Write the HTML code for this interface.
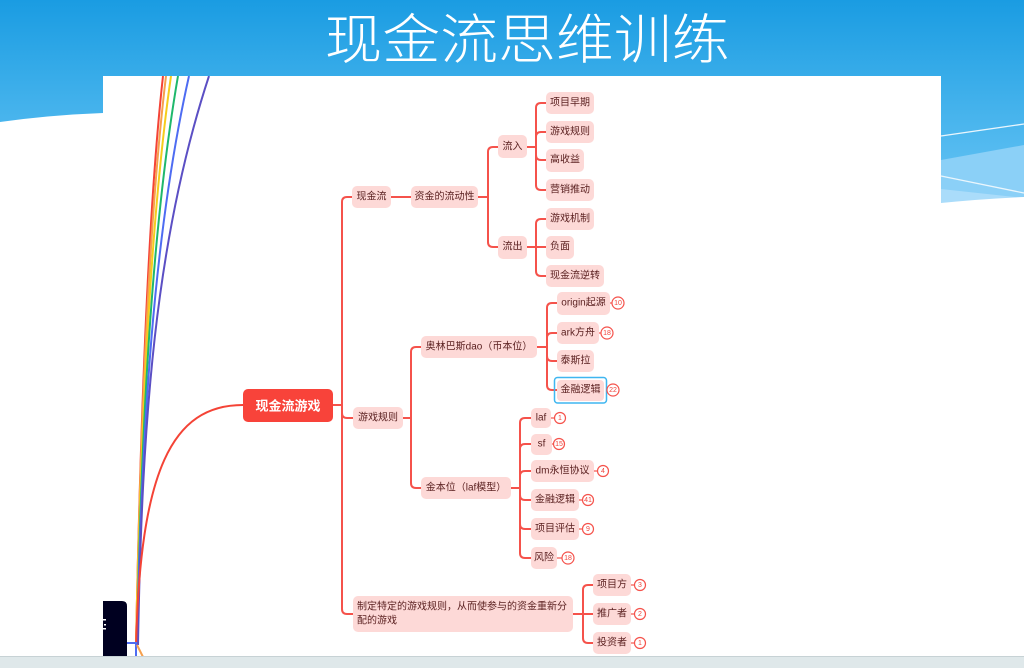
<!DOCTYPE html>
<html><head><meta charset="utf-8"><style>
html,body{margin:0;padding:0;width:1024px;height:668px;overflow:hidden;background:#fff}
svg{display:block}
.n{fill:#fdd9d7}
.t{font-family:"Liberation Sans","Noto Sans CJK SC",sans-serif;font-size:10px;fill:#5c2222;text-anchor:middle;dominant-baseline:central}
.c{fill:none;stroke:#f5524b;stroke-width:2}
.b{fill:#fff;stroke:#f5524b;stroke-width:1.2}
.bt{font-family:"Liberation Sans",sans-serif;font-size:7px;fill:#f0443c;text-anchor:middle;dominant-baseline:central}
</style></head><body>
<svg width="1024" height="668" viewBox="0 0 1024 668" xmlns="http://www.w3.org/2000/svg">
<defs>
<linearGradient id="bg" x1="0" y1="0" x2="0" y2="1">
<stop offset="0" stop-color="#1a9ce2"/>
<stop offset="0.37" stop-color="#38ace9"/>
<stop offset="1" stop-color="#6cc7f6"/>
</linearGradient>
<clipPath id="panel"><rect x="103" y="76" width="838" height="581"/></clipPath>
</defs>
<rect x="0" y="0" width="1024" height="210" fill="url(#bg)"/>
<!-- right bands -->
<path d="M941,160 L1024,145 L1024,200 L941,205 Z" fill="#8bd0f7"/>
<path d="M941,189 L1024,198 L1024,200 L941,205 Z" fill="#aadcfa"/>
<line x1="941" y1="136" x2="1024" y2="124" stroke="#eaf6fd" stroke-width="1.3"/>
<line x1="941" y1="176" x2="1024" y2="193" stroke="#eaf6fd" stroke-width="1.3"/>
<!-- white clouds -->
<path d="M0,122 Q50,115 103,113 L103,668 L0,668 Z" fill="#fff"/>
<path d="M941,203 Q980,199 1024,197 L1024,668 L941,668 Z" fill="#fff"/>
<rect x="103" y="76" width="838" height="581" fill="#fff"/>
<!-- title -->
<text x="527" y="35" font-family="'Noto Sans CJK SC','WenQuanYi Zen Hei',sans-serif" font-size="54" font-weight="300" fill="#fff" text-anchor="middle" dominant-baseline="central" textLength="405" lengthAdjust="spacingAndGlyphs">现金流思维训练</text>

<g clip-path="url(#panel)">
<!-- rainbow lines -->
<path d="M136,645 C140,450 147,220 163,76" fill="none" stroke="#f44336" stroke-width="2"/>
<path d="M136,645 C140,445 148,225 166,76" fill="none" stroke="#f6a04d" stroke-width="2"/>
<path d="M136,645 C141,440 149,228 171,76" fill="none" stroke="#f5cd1c" stroke-width="2"/>
<path d="M137,645 C141,435 151,232 178,76" fill="none" stroke="#1fb86c" stroke-width="2"/>
<path d="M137,645 C142,428 153,236 189,76" fill="none" stroke="#4e6cf2" stroke-width="2"/>
<path d="M138,645 C142,420 155,240 209,76" fill="none" stroke="#5b4fc4" stroke-width="2"/>
<!-- main red curve -->
<path d="M243,405 C172,405 140,470 136,648" fill="none" stroke="#f44336" stroke-width="2"/>
<!-- black box -->
<path d="M102,601 H122 Q127,601 127,606 V657 H102 Z" fill="#000020"/>
<rect x="103" y="619" width="3" height="1.5" fill="#fff"/>
<rect x="104" y="624" width="2" height="1.5" fill="#fff"/>
<rect x="103" y="628" width="3" height="1.5" fill="#fff"/>
<path d="M127,643 H136 V657" fill="none" stroke="#4e6cf2" stroke-width="2"/>
<path d="M137,645 L143,657" fill="none" stroke="#f6a04d" stroke-width="2"/>
</g>

<!-- bottom strip -->
<rect x="0" y="656" width="1024" height="12" fill="#dfe8ea"/>
<rect x="0" y="656" width="1024" height="1" fill="#c7d2d5"/>

<!-- connectors -->
<g class="c">
<path d="M333,405 H342"/>
<path d="M342,405 V202 Q342,197 347,197 H352"/>
<path d="M342,405 V413 Q342,418 347,418 H353"/>
<path d="M342,405 V609 Q342,614 347,614 H353"/>
<path d="M391,197 H411"/>
<path d="M403,418 H411"/>
<path d="M411,418 V352 Q411,347 416,347 H421"/>
<path d="M411,418 V483 Q411,488 416,488 H421"/>
<path d="M478,197 H488"/>
<path d="M488,197 V152 Q488,147 493,147 H498"/>
<path d="M488,197 V242 Q488,247 493,247 H498"/>
<path d="M527,147 H536"/>
<path d="M536,147 V108 Q536,103 541,103 H546"/>
<path d="M536,147 V137 Q536,132 541,132 H546"/>
<path d="M536,147 V155 Q536,160 541,160 H546"/>
<path d="M536,147 V185 Q536,190 541,190 H546"/>
<path d="M527,247 H546"/>
<path d="M536,247 V224 Q536,219 541,219 H546"/>
<path d="M536,247 V271 Q536,276 541,276 H546"/>
<path d="M537,347 H547"/>
<path d="M547,347 V308 Q547,303 552,303 H557"/>
<path d="M547,347 V338 Q547,333 552,333 H557"/>
<path d="M547,347 V356 Q547,361 552,361 H557"/>
<path d="M547,347 V385 Q547,390 552,390 H557"/>
<path d="M511,488 H520"/>
<path d="M520,488 V423 Q520,418 525,418 H531"/>
<path d="M520,488 V449 Q520,444 525,444 H531"/>
<path d="M520,488 V476 Q520,471 525,471 H531"/>
<path d="M520,488 V495 Q520,500 525,500 H531"/>
<path d="M520,488 V524 Q520,529 525,529 H531"/>
<path d="M520,488 V553 Q520,558 525,558 H531"/>
<path d="M573,614 H593"/>
<path d="M583,614 V590 Q583,585 588,585 H593"/>
<path d="M583,614 V638 Q583,643 588,643 H593"/>
</g>
<!-- badge connectors -->
<g stroke="#f5524b" stroke-width="1.2">
<line x1="610" y1="303" x2="612" y2="303"/>
<line x1="599" y1="333" x2="601" y2="333"/>
<line x1="551" y1="418" x2="554" y2="418"/>
<line x1="551" y1="444" x2="553" y2="444"/>
<line x1="594" y1="471" x2="597" y2="471"/>
<line x1="579" y1="500" x2="582" y2="500"/>
<line x1="579" y1="529" x2="582" y2="529"/>
<line x1="557" y1="558" x2="562" y2="558"/>
<line x1="631" y1="585" x2="634" y2="585"/>
<line x1="631" y1="614" x2="634" y2="614"/>
<line x1="631" y1="643" x2="634" y2="643"/>
</g>

<!-- center node -->
<rect x="243" y="389" width="90" height="33" rx="5" fill="#f8433a"/>
<text x="288" y="406" font-family="'Liberation Sans','Noto Sans CJK SC',sans-serif" font-size="13" font-weight="bold" fill="#fff" text-anchor="middle" dominant-baseline="central">现金流游戏</text>

<!-- nodes -->
<g>
<rect class="n" x="352" y="186" width="39" height="22" rx="5"/><text class="t" x="371.5" y="197">现金流</text>
<rect class="n" x="353" y="407" width="50" height="22" rx="5"/><text class="t" x="378" y="418">游戏规则</text>
<rect class="n" x="353" y="596" width="220" height="36" rx="5"/>
<text class="t" x="357" y="607" style="text-anchor:start">制定特定的游戏规则，从而使参与的资金重新分</text>
<text class="t" x="357" y="621" style="text-anchor:start">配的游戏</text>

<rect class="n" x="411" y="186" width="67" height="22" rx="5"/><text class="t" x="444.5" y="197">资金的流动性</text>
<rect class="n" x="421" y="336" width="116" height="22" rx="5"/><text class="t" x="479" y="347">奥林巴斯dao（币本位）</text>
<rect class="n" x="421" y="477" width="90" height="22" rx="5"/><text class="t" x="466" y="488">金本位（laf模型）</text>

<rect class="n" x="498" y="135" width="29" height="23" rx="5"/><text class="t" x="512.5" y="147">流入</text>
<rect class="n" x="498" y="236" width="29" height="23" rx="5"/><text class="t" x="512.5" y="247">流出</text>

<rect class="n" x="546" y="92" width="48" height="22" rx="5"/><text class="t" x="570" y="103">项目早期</text>
<rect class="n" x="546" y="121" width="48" height="22" rx="5"/><text class="t" x="570" y="132">游戏规则</text>
<rect class="n" x="546" y="149" width="38" height="23" rx="5"/><text class="t" x="565" y="160">高收益</text>
<rect class="n" x="546" y="179" width="48" height="22" rx="5"/><text class="t" x="570" y="190">营销推动</text>
<rect class="n" x="546" y="208" width="48" height="22" rx="5"/><text class="t" x="570" y="219">游戏机制</text>
<rect class="n" x="546" y="236" width="28" height="23" rx="5"/><text class="t" x="560" y="247">负面</text>
<rect class="n" x="546" y="265" width="58" height="22" rx="5"/><text class="t" x="575" y="276">现金流逆转</text>

<rect class="n" x="557" y="292" width="53" height="23" rx="5"/><text class="t" x="583.5" y="303">origin起源</text>
<rect class="n" x="557" y="322" width="42" height="22" rx="5"/><text class="t" x="578" y="333">ark方舟</text>
<rect class="n" x="557" y="350" width="37" height="22" rx="5"/><text class="t" x="575.5" y="361">泰斯拉</text>
<rect class="n" x="557" y="380" width="47" height="21" rx="4"/>
<rect x="554.5" y="377.5" width="52" height="25.5" rx="3" fill="none" stroke="#3fb6f0" stroke-width="1.5"/>
<text class="t" x="580.5" y="390">金融逻辑</text>

<rect class="n" x="531" y="408" width="20" height="20" rx="5"/><text class="t" x="541" y="418">laf</text>
<rect class="n" x="531" y="434" width="21" height="21" rx="5"/><text class="t" x="541.5" y="444">sf</text>
<rect class="n" x="531" y="460" width="63" height="22" rx="5"/><text class="t" x="562.5" y="471">dm永恒协议</text>
<rect class="n" x="531" y="489" width="48" height="22" rx="5"/><text class="t" x="555" y="500">金融逻辑</text>
<rect class="n" x="531" y="518" width="48" height="22" rx="5"/><text class="t" x="555" y="529">项目评估</text>
<rect class="n" x="531" y="547" width="26" height="22" rx="5"/><text class="t" x="544" y="558">风险</text>

<rect class="n" x="593" y="574" width="38" height="22" rx="5"/><text class="t" x="612" y="585">项目方</text>
<rect class="n" x="593" y="603" width="38" height="22" rx="5"/><text class="t" x="612" y="614">推广者</text>
<rect class="n" x="593" y="632" width="38" height="22" rx="5"/><text class="t" x="612" y="643">投资者</text>
</g>

<!-- badges -->
<g>
<circle class="b" cx="618" cy="303" r="6"/><text class="bt" x="618" y="303.5">10</text>
<circle class="b" cx="607" cy="333" r="6"/><text class="bt" x="607" y="333.5">18</text>
<circle class="b" cx="613" cy="390" r="6"/><text class="bt" x="613" y="390.5">22</text>
<circle class="b" cx="560" cy="418" r="5.5"/><text class="bt" x="560" y="418.5">1</text>
<circle class="b" cx="559" cy="444" r="5.5"/><text class="bt" x="559" y="444.5">15</text>
<circle class="b" cx="603" cy="471" r="5.5"/><text class="bt" x="603" y="471.5">4</text>
<circle class="b" cx="588" cy="500" r="5.5"/><text class="bt" x="588" y="500.5">41</text>
<circle class="b" cx="588" cy="529" r="5.5"/><text class="bt" x="588" y="529.5">9</text>
<circle class="b" cx="568" cy="558" r="6"/><text class="bt" x="568" y="558.5">18</text>
<circle class="b" cx="640" cy="585" r="5.5"/><text class="bt" x="640" y="585.5">3</text>
<circle class="b" cx="640" cy="614" r="5.5"/><text class="bt" x="640" y="614.5">2</text>
<circle class="b" cx="640" cy="643" r="5.5"/><text class="bt" x="640" y="643.5">1</text>
</g>
</svg>
</body></html>
